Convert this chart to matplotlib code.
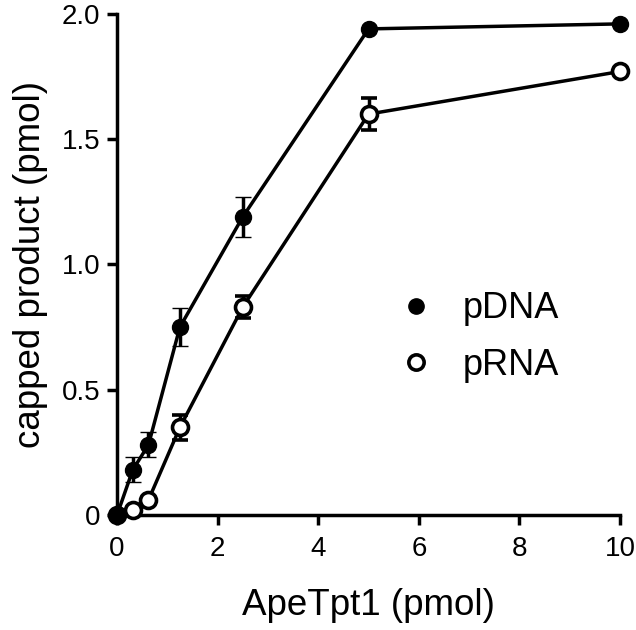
import matplotlib
matplotlib.use("Agg")
import matplotlib.pyplot as plt
from matplotlib.lines import Line2D

plt.rcParams['font.family'] = ['Liberation Sans', 'DejaVu Sans']

x = [0, 0.3125, 0.625, 1.25, 2.5, 5, 10]
pdna = [0, 0.18, 0.28, 0.75, 1.19, 1.94, 1.96]
pdna_err = [0, 0.05, 0.05, 0.075, 0.08, 0.0, 0.0]
prna = [0, 0.02, 0.06, 0.35, 0.83, 1.60, 1.77]
prna_err = [0, 0.0, 0.0, 0.05, 0.045, 0.065, 0.0]

xticks = [0, 2, 4, 6, 8, 10]
yticks = [0, 0.5, 1.0, 1.5, 2.0]
yticklabels = ["0", "0.5", "1.0", "1.5", "2.0"]

fig = plt.figure(figsize=(6.36, 6.30), dpi=100)
ax = fig.add_axes([0.184, 0.1825, 0.791, 0.7955])

lw = 2.5
ax.errorbar(x, prna, yerr=prna_err, color='black', lw=lw, marker='o', ms=11.5,
            mfc='white', mec='black', mew=2.6, capsize=6, capthick=2.6,
            elinewidth=lw, clip_on=False, zorder=3)
ax.errorbar(x, pdna, yerr=pdna_err, color='black', lw=lw, marker='o', ms=11.5,
            mfc='black', mec='black', mew=1, capsize=6, capthick=2.6,
            elinewidth=lw, clip_on=False, zorder=4)

ax.set_xlim(0, 10)
ax.set_ylim(0, 2.0)
ax.set_xticks(xticks)
ax.set_xticklabels([str(t) for t in xticks])
ax.set_yticks(yticks)
ax.set_yticklabels(yticklabels)

for s in ['top', 'right']:
    ax.spines[s].set_visible(False)
for s in ['left', 'bottom']:
    ax.spines[s].set_linewidth(lw)
ax.tick_params(width=lw, length=7, labelsize=20)
ax.tick_params(axis='x', pad=8)
ax.tick_params(axis='y', pad=5)

ax.set_xlabel("ApeTpt1 (pmol)", fontsize=26.5, labelpad=19)
ax.set_ylabel("capped product (pmol)", fontsize=26.5, labelpad=10)

handles = [
    Line2D([], [], ls='none', marker='o', ms=11, mfc='black', mec='black', mew=1),
    Line2D([], [], ls='none', marker='o', ms=11, mfc='white', mec='black', mew=2.6),
]
ax.legend(handles, ["pDNA", "pRNA"], loc='center left', bbox_to_anchor=(0.493, 0.355),
          frameon=False, fontsize=26, handlelength=1.0, handletextpad=0.8,
          labelspacing=0.6)

fig.savefig("out.png", dpi=100)
